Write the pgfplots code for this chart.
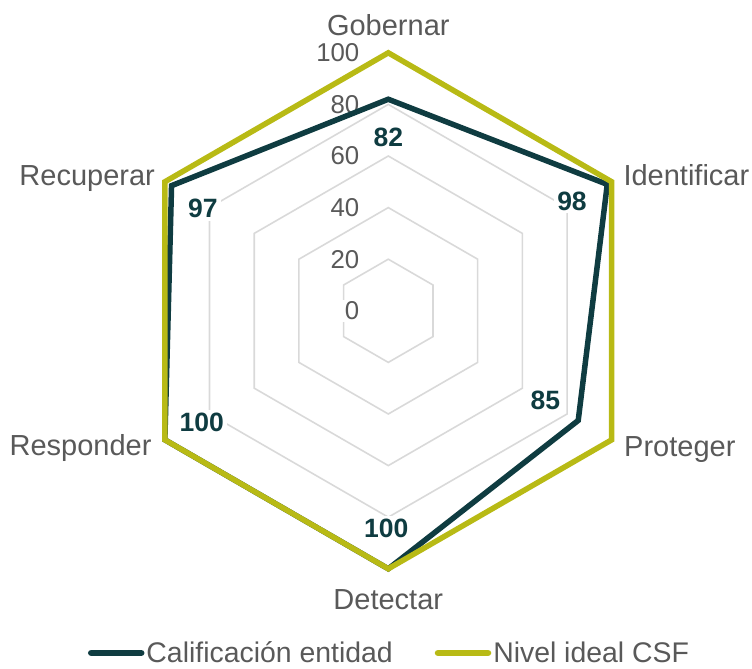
\documentclass[border=0pt]{standalone}
\usepackage{fontspec}
\setmainfont{Liberation Sans}
\usepackage{pgfplots}
\pgfplotsset{compat=1.18}
\usepgfplotslibrary{polar}
\definecolor{darkteal}{HTML}{0F3C41}
\definecolor{csfgreen}{HTML}{B8BA15}
\definecolor{txtgray}{HTML}{595959}
\definecolor{gridgray}{HTML}{D9D9D9}
\newcommand{\catfont}{\fontsize{29bp}{34bp}\selectfont}
\newcommand{\tickfont}{\fontsize{25.8bp}{30bp}\selectfont}
\newcommand{\lblfont}{\fontsize{26.5bp}{30bp}\selectfont\bfseries}
\begin{document}
\begin{tikzpicture}
\begin{axis}[
  width=752bp, height=669bp, scale only axis,
  xmin=-150.5, xmax=140.97, ymin=-138.84, ymax=120.47,
  hide axis, clip=false,
  legend columns=2,
  legend image code/.code={\draw[#1, line width=6.5bp, line cap=round] (0bp,0bp) -- (50bp,0bp);},
  legend style={at={(axis cs:-116.4,-132.6)}, anchor=west, draw=none, fill=none,
    inner sep=0pt, outer sep=0pt,
    font=\fontsize{28.4bp}{32bp}\selectfont\color{txtgray},
    nodes={inner xsep=2bp, inner ysep=0.3bp},
    /tikz/every even column/.append style={column sep=40bp}},
]
% grid hexagons
\addplot[gridgray, line width=1.6bp, data cs=polar, forget plot] coordinates {(90,20)(30,20)(-30,20)(-90,20)(-150,20)(150,20)(90,20)(30,20)};
\addplot[gridgray, line width=1.6bp, data cs=polar, forget plot] coordinates {(90,40)(30,40)(-30,40)(-90,40)(-150,40)(150,40)(90,40)(30,40)};
\addplot[gridgray, line width=1.6bp, data cs=polar, forget plot] coordinates {(90,60)(30,60)(-30,60)(-90,60)(-150,60)(150,60)(90,60)(30,60)};
\addplot[gridgray, line width=1.6bp, data cs=polar, forget plot] coordinates {(90,80)(30,80)(-30,80)(-90,80)(-150,80)(150,80)(90,80)(30,80)};
\addplot[gridgray, line width=1.6bp, data cs=polar, forget plot] coordinates {(90,100)(30,100)(-30,100)(-90,100)(-150,100)(150,100)(90,100)(30,100)};
% tick labels
\pgfplotsinvokeforeach{0,20,40,60,80,100}{
  \node[anchor=east, fill=white, inner xsep=4bp, inner ysep=2bp, text=txtgray, font=\tickfont] at (axis cs:-9.6,#1) {#1};
}
% series
\addplot[darkteal, line width=5.5bp, line join=miter, data cs=polar, forget plot] coordinates {(90,82)(30,98)(-30,85)(-90,100)(-150,100)(150,97)(90,82)(30,98)};
\addplot[csfgreen, line width=5.5bp, line join=miter, data cs=polar, forget plot] coordinates {(90,100)(30,100)(-30,100)(-90,100)(-150,100)(150,100)(90,100)(30,100)};
\addlegendimage{darkteal}
\addlegendentry{Calificación entidad}
\addlegendimage{csfgreen}
\addlegendentry{Nivel ideal CSF}
% data labels
\node[fill=white, inner sep=3bp, text=darkteal, font=\lblfont] at (axis cs:0,67.2) {82};
\node[fill=white, inner sep=3bp, text=darkteal, font=\lblfont] at (axis cs:71.2,42.6) {98};
\node[fill=white, inner sep=3bp, text=darkteal, font=\lblfont] at (axis cs:60.9,-34.7) {85};
\node[fill=white, inner sep=3bp, text=darkteal, font=\lblfont] at (axis cs:-0.8,-84.3) {100};
\node[fill=white, inner sep=3bp, text=darkteal, font=\lblfont] at (axis cs:-72.3,-43.2) {100};
\node[fill=white, inner sep=3bp, text=darkteal, font=\lblfont] at (axis cs:-71.9,39.7) {97};
% category labels
\node[anchor=base, inner sep=0pt, text=txtgray, font=\catfont] at (axis cs:0,106.9) {Gobernar};
\node[anchor=base west, inner sep=0pt, text=txtgray, font=\catfont] at (axis cs:91.09,48.49) {Identificar};
\node[anchor=base west, inner sep=0pt, text=txtgray, font=\catfont] at (axis cs:91.36,-56.55) {Proteger};
\node[anchor=base, inner sep=0pt, text=txtgray, font=\catfont] at (axis cs:0,-115.6) {Detectar};
\node[anchor=base east, inner sep=0pt, text=txtgray, font=\catfont] at (axis cs:-91.7,-55.9) {Responder};
\node[anchor=base east, inner sep=0pt, text=txtgray, font=\catfont] at (axis cs:-90.4,48.5) {Recuperar};
\coordinate (bbsw) at (rel axis cs:0,0);
\coordinate (bbne) at (rel axis cs:1,1);
\end{axis}
\pgfresetboundingbox
\path[use as bounding box] (bbsw) rectangle (bbne);
\end{tikzpicture}
\end{document}
